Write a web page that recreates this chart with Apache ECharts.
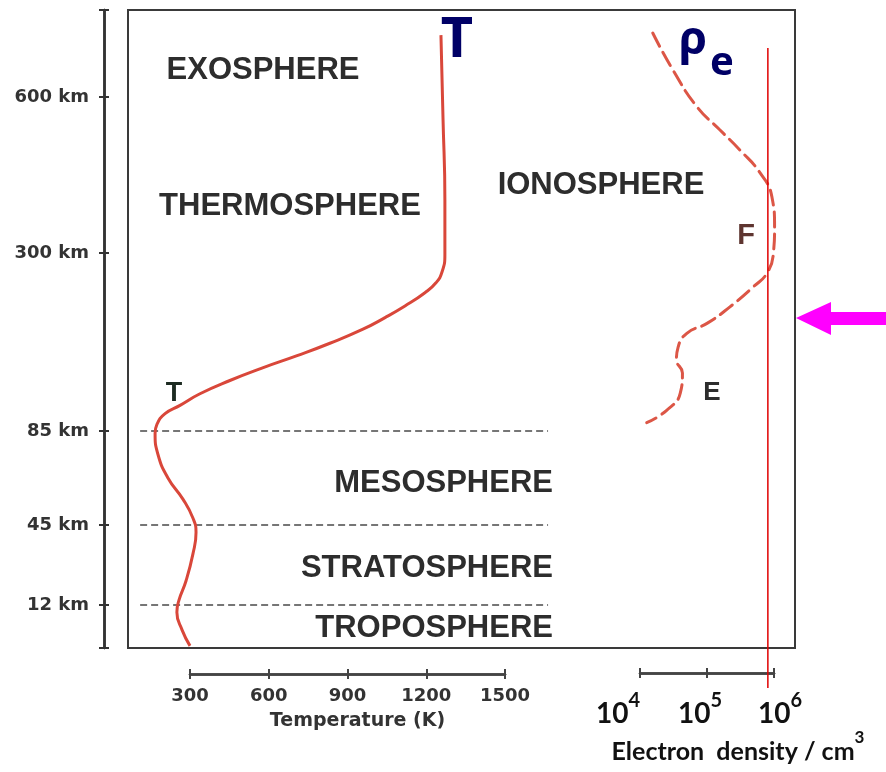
<!DOCTYPE html>
<html>
<head>
<meta charset="utf-8">
<script src="https://cdn.jsdelivr.net/npm/echarts@6/dist/echarts.min.js"></script>
<style>
  html, body { margin: 0; padding: 0; background: #ffffff; }
  #chart { width: 886px; height: 772px; }
</style>
</head>
<body>
<div id="chart"></div>
<script>
// Temperature profile of the atmosphere: temperature (K) against altitude (km)
const tempK   = [1256, 1264, 1271, 1271, 1260, 1237, 1195, 1119, 1043, 959, 833, 708, 574, 452, 338, 262, 205, 174, 167, 178, 216, 273, 311, 323, 311, 285, 258, 250, 270, 300];
const tempAlt = [719, 556, 402, 298, 277, 264, 252, 236, 222, 208, 191, 176, 161, 146, 130, 116, 106, 93, 84, 75, 65, 56, 48, 42, 33, 22, 14, 10, 5, 0.6];

// Electron density profile (electrons per cm³) against altitude (km)
const densityCm3 = [1.55e4, 3.1e4, 7.1e4, 1.55e5, 3.1e5, 6.2e5, 9.3e5, 1.02e6, 9.8e5, 7.9e5, 4.9e5, 2.2e5, 1.0e5, 5.0e4, 3.7e4, 3.5e4, 4.3e4, 4.0e4, 2.5e4, 1.26e4];
const densityAlt = [723, 652, 581, 537, 498, 454, 408, 350, 300, 276, 259, 235, 215, 203, 186, 171, 155, 131, 110, 95];

// Layer boundaries (km), tick values and reference density
const boundaryAlt    = [12, 45, 85];
const altTicks       = [12, 45, 85, 300, 600];
const tempTicks      = [300, 600, 900, 1200, 1500];
const densityDecades = [4, 5, 6];
const refDensity     = 8.1e5;

// Piecewise-linear (broken) altitude scale: km -> axis units
const ALT_KNOTS = [0, 12, 45, 85, 300, 600];
const AXIS_KNOTS = [0, 43, 123, 217, 395, 551];
const AXIS_TOP = 638;
function altScale(a) {
  for (let i = 1; i < ALT_KNOTS.length; i++) {
    if (a <= ALT_KNOTS[i] || i === ALT_KNOTS.length - 1) {
      return AXIS_KNOTS[i - 1] + (a - ALT_KNOTS[i - 1]) * (AXIS_KNOTS[i] - AXIS_KNOTS[i - 1]) / (ALT_KNOTS[i] - ALT_KNOTS[i - 1]);
    }
  }
}
const altLabelByPos = {};
altTicks.forEach(a => { altLabelByPos[Math.round(altScale(a) * 100)] = a + ' km'; });

// Frame and axis placement (pixels)
const FRAME = { left: 128, top: 10, width: 667, height: 638 };
const TEMP_AXIS = { left: 190, width: 315 };
const DENS_AXIS = { left: 640, width: 134 };

// Hidden in-frame temperature scale continuing the visible temperature axis
const kPerPx = (tempTicks[tempTicks.length - 1] - tempTicks[0]) / TEMP_AXIS.width;
const tMin = tempTicks[0] - (TEMP_AXIS.left - FRAME.left) * kPerPx;
const tMax = tempTicks[tempTicks.length - 1] + (FRAME.left + FRAME.width - TEMP_AXIS.left - TEMP_AXIS.width) * kPerPx;
// Hidden in-frame log10 density scale continuing the visible density axis
const decPx = DENS_AXIS.width / (densityDecades[densityDecades.length - 1] - densityDecades[0]);
const dMin = densityDecades[0] - (DENS_AXIS.left - FRAME.left) / decPx;
const dMax = densityDecades[densityDecades.length - 1] + (FRAME.left + FRAME.width - DENS_AXIS.left - DENS_AXIS.width) / decPx;

const boundarySpan = [110, 1664]; // temperature range covered by the dashed boundaries

const ARIAL = '"Liberation Sans", Arial, sans-serif';
const DEJAVU = '"DejaVu Sans", sans-serif';
const LATO = 'Lato, "Noto Sans", sans-serif';
const TEXT = '#2d2d2d';

const chart = echarts.init(document.getElementById('chart'), null, { renderer: 'canvas' });

const series = [
  {
    name: 'Temperature', type: 'line', xAxisIndex: 0, yAxisIndex: 0,
    data: tempK.map((t, i) => [t, altScale(tempAlt[i])]),
    smooth: 0.5, showSymbol: false, z: 4,
    lineStyle: { color: '#d9473a', width: 3 }
  },
  {
    name: 'Electron density', type: 'line', xAxisIndex: 1, yAxisIndex: 0,
    data: densityCm3.map((d, i) => [Math.log10(d), altScale(densityAlt[i])]),
    smooth: 0.5, showSymbol: false, z: 4,
    lineStyle: { color: '#dc5646', width: 3, type: [15, 7], cap: 'round' }
  },
  {
    name: 'Reference density', type: 'line', xAxisIndex: 2, yAxisIndex: 3,
    data: [[Math.log10(refDensity), 0], [Math.log10(refDensity), 1]],
    showSymbol: false, z: 5,
    lineStyle: { color: '#e00000', width: 1.5 }
  }
];
boundaryAlt.forEach(a => {
  series.push({
    type: 'line', xAxisIndex: 0, yAxisIndex: 0,
    data: [[boundarySpan[0], altScale(a)], [boundarySpan[1], altScale(a)]],
    showSymbol: false, z: 2,
    lineStyle: { color: '#4a4a4a', width: 1.5, type: [7, 4] }
  });
});

const tempAxisBase = {
  gridIndex: 2, type: 'value', min: tempTicks[0], max: tempTicks[tempTicks.length - 1], interval: 300,
  position: 'bottom',
  axisLine: { show: true, onZero: false, lineStyle: { color: '#444', width: 2.5 } },
  splitLine: { show: false }
};
const densAxisBase = {
  gridIndex: 3, type: 'value', min: densityDecades[0], max: densityDecades[densityDecades.length - 1], interval: 1,
  position: 'bottom',
  axisLine: { show: true, onZero: false, lineStyle: { color: '#444', width: 2.5 } },
  splitLine: { show: false }
};
const kmTickValues = [0].concat(altTicks.map(altScale), [AXIS_TOP]);
const kmAxisBase = {
  gridIndex: 0, type: 'value', min: 0, max: AXIS_TOP, position: 'left', offset: 24,
  axisLine: { show: true, onZero: false, lineStyle: { color: '#333', width: 2.5 } },
  splitLine: { show: false }
};

const option = {
  animation: false,
  backgroundColor: '#ffffff',
  grid: [
    { left: FRAME.left, top: FRAME.top, width: FRAME.width, height: FRAME.height, show: true, borderColor: '#3a3a3a', borderWidth: 2, backgroundColor: 'transparent' },
    { left: FRAME.left, top: 48, width: FRAME.width, height: 640 },
    { left: TEMP_AXIS.left, top: 673, width: TEMP_AXIS.width, height: 1 },
    { left: DENS_AXIS.left, top: 672, width: DENS_AXIS.width, height: 1 }
  ],
  xAxis: [
    { gridIndex: 0, type: 'value', min: tMin, max: tMax, show: false },
    { gridIndex: 0, type: 'value', min: dMin, max: dMax, show: false },
    { gridIndex: 1, type: 'value', min: dMin, max: dMax, show: false },
    Object.assign({}, tempAxisBase, {
      axisTick: { show: true, inside: false, length: 5, lineStyle: { color: '#444', width: 2 } },
      axisLabel: { margin: 13, formatter: v => String(v), fontFamily: DEJAVU, fontWeight: 'bold', fontSize: 18, color: '#333' },
      name: 'Temperature (K)', nameLocation: 'middle', nameGap: 38,
      nameTextStyle: { fontFamily: DEJAVU, fontWeight: 'bold', fontSize: 19, color: '#333', padding: [0, 0, 0, 20] }
    }),
    Object.assign({}, tempAxisBase, {
      axisTick: { show: true, inside: true, length: 5, lineStyle: { color: '#444', width: 2 } },
      axisLabel: { show: false }
    }),
    Object.assign({}, densAxisBase, {
      axisTick: { show: true, inside: false, length: 5, lineStyle: { color: '#444', width: 2 } },
      axisLabel: {
        margin: 18,
        formatter: v => {
          if (v === 4) return '{n|10}{s|4}{g44| }';
          if (v === 5) return '{n|10}{s|5}{g14| }';
          return '{g12| }{n|10}{s|' + v + '}';
        },
        rich: {
          n: { fontFamily: LATO, fontWeight: 'bold', fontSize: 28, color: '#111', lineHeight: 37, verticalAlign: 'bottom' },
          s: { fontFamily: LATO, fontWeight: 'bold', fontSize: 20, color: '#111', lineHeight: 20, verticalAlign: 'top' },
          g44: { width: 44 }, g14: { width: 14 }, g12: { width: 12 }
        }
      },
      name: '{t|Electron  density / cm}{p|3}', nameLocation: 'middle', nameGap: 34,
      nameTextStyle: {
        padding: [0, 0, 0, 62],
        rich: {
          t: { fontFamily: LATO, fontWeight: 'bold', fontSize: 25, color: '#111', lineHeight: 36, verticalAlign: 'bottom' },
          p: { fontFamily: LATO, fontWeight: 'bold', fontSize: 17, color: '#111', lineHeight: 17, verticalAlign: 'top' }
        }
      }
    }),
    Object.assign({}, densAxisBase, {
      axisTick: { show: true, inside: true, length: 5, lineStyle: { color: '#444', width: 2 } },
      axisLabel: { show: false }
    })
  ],
  yAxis: [
    { gridIndex: 0, type: 'value', min: 0, max: AXIS_TOP, show: false },
    Object.assign({}, kmAxisBase, {
      axisTick: { show: true, inside: false, length: 5, customValues: kmTickValues, lineStyle: { color: '#333', width: 2 } },
      axisLabel: {
        margin: 15, customValues: altTicks.map(altScale),
        formatter: v => altLabelByPos[Math.round(v * 100)] || '',
        fontFamily: DEJAVU, fontWeight: 'bold', fontSize: 18, color: '#333'
      }
    }),
    Object.assign({}, kmAxisBase, {
      axisTick: { show: true, inside: true, length: 5, customValues: kmTickValues, lineStyle: { color: '#333', width: 2 } },
      axisLabel: { show: false }
    }),
    { gridIndex: 1, type: 'value', min: 0, max: 1, show: false },
    { gridIndex: 2, type: 'value', min: 0, max: 1, show: false },
    { gridIndex: 3, type: 'value', min: 0, max: 1, show: false }
  ],
  series: series,
  graphic: [
    { type: 'text', x: 263, y: 70, style: { text: 'EXOSPHERE', font: 'bold 31px ' + ARIAL, fill: TEXT, align: 'center', verticalAlign: 'middle' } },
    { type: 'text', x: 290, y: 206, style: { text: 'THERMOSPHERE', font: 'bold 31px ' + ARIAL, fill: TEXT, align: 'center', verticalAlign: 'middle' } },
    { type: 'text', x: 601, y: 185, style: { text: 'IONOSPHERE', font: 'bold 31px ' + ARIAL, fill: TEXT, align: 'center', verticalAlign: 'middle' } },
    { type: 'text', x: 553, y: 483, style: { text: 'MESOSPHERE', font: 'bold 31px ' + ARIAL, fill: TEXT, align: 'right', verticalAlign: 'middle' } },
    { type: 'text', x: 553, y: 568, style: { text: 'STRATOSPHERE', font: 'bold 31px ' + ARIAL, fill: TEXT, align: 'right', verticalAlign: 'middle' } },
    { type: 'text', x: 553, y: 628, style: { text: 'TROPOSPHERE', font: 'bold 31px ' + ARIAL, fill: TEXT, align: 'right', verticalAlign: 'middle' } },
    { type: 'text', x: 174, y: 394, style: { text: 'T', font: 'bold 27px ' + ARIAL, fill: '#1d2b22', align: 'center', verticalAlign: 'middle' } },
    { type: 'text', x: 746, y: 236, style: { text: 'F', font: 'bold 29px ' + ARIAL, fill: '#5e3530', align: 'center', verticalAlign: 'middle' } },
    { type: 'text', x: 712, y: 393, style: { text: 'E', font: 'bold 26px ' + ARIAL, fill: TEXT, align: 'center', verticalAlign: 'middle' } },
    { type: 'text', x: 457, y: 41, style: { text: 'T', font: 'bold 56px "Noto Sans", sans-serif', fill: '#000066', align: 'center', verticalAlign: 'middle' } },
    { type: 'text', x: 693, y: 41, style: { text: 'ρ', font: 'bold 46px "Noto Sans", sans-serif', fill: '#000066', align: 'center', verticalAlign: 'middle' } },
    { type: 'text', x: 722, y: 64, style: { text: 'e', font: 'bold 40px "Noto Sans", sans-serif', fill: '#000066', align: 'center', verticalAlign: 'middle' } },
    {
      type: 'polygon', z: 10,
      shape: { points: [[796, 318], [831, 302], [831, 312], [886, 312], [886, 325], [831, 325], [831, 335]] },
      style: { fill: '#ff00ff' }
    }
  ]
};

chart.setOption(option);
</script>
</body>
</html>
